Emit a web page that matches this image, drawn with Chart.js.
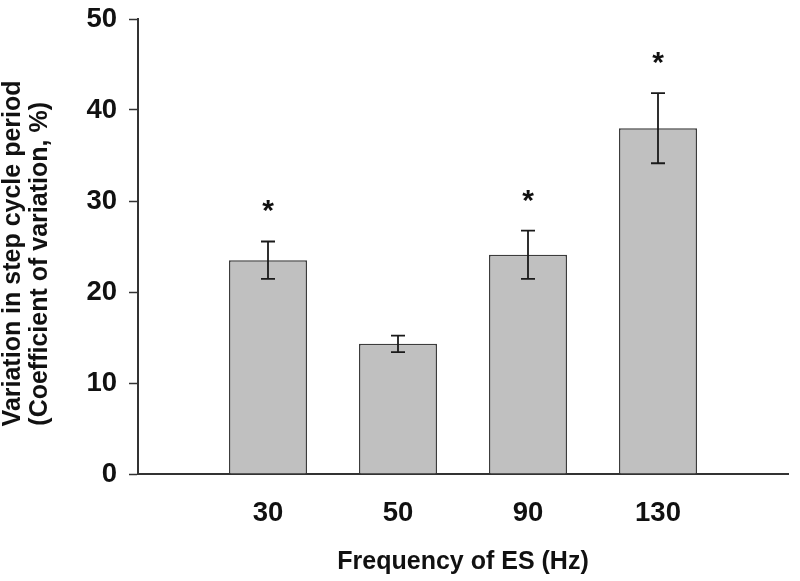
<!DOCTYPE html>
<html>
<head>
<meta charset="utf-8">
<script src="https://cdn.jsdelivr.net/npm/chart.js@4"></script>
<style>
  html, body { margin: 0; padding: 0; background: #ffffff; }
  #wrap { width: 800px; height: 581px; }
</style>
</head>
<body>
<div id="wrap"><canvas id="c" width="800" height="581"></canvas></div>
<script>
// ---- data ----
const categories = ['30', '50', '90', '130'];          // Frequency of ES (Hz)
const means      = [23.5, 14.3, 24.1, 38.0];            // CV, %
const errors     = [2.05, 0.9, 2.65, 3.85];             // +/- error
const significant = [true, false, true, true];          // asterisk markers
const yTicks = [0, 10, 20, 30, 40, 50];

// padded category list so bars sit on the interior tick positions
const labels = [''].concat(categories, ['']);
const barData = [null].concat(means, [null]);
const errData = [null].concat(errors, [null]);
const sigData = [false].concat(significant, [false]);

const FONT = "'Liberation Sans', Arial, Helvetica, sans-serif";
const INK = '#111111';
const AXIS = '#333333';

const errorBarPlugin = {
  id: 'errorBars',
  afterDatasetsDraw(chart) {
    const ctx = chart.ctx;
    const meta = chart.getDatasetMeta(0);
    const yScale = chart.scales.y;
    ctx.save();
    meta.data.forEach((bar, i) => {
      const m = barData[i];
      const e = errData[i];
      if (m === null || e === null) return;
      const x = bar.x;
      const yTop = yScale.getPixelForValue(m + e);
      const yBot = yScale.getPixelForValue(m - e);
      const cap = 7;
      ctx.strokeStyle = '#1a1a1a';
      ctx.lineWidth = 1.8;
      ctx.beginPath();
      ctx.moveTo(x, yTop); ctx.lineTo(x, yBot);
      ctx.moveTo(x - cap, yTop); ctx.lineTo(x + cap, yTop);
      ctx.moveTo(x - cap, yBot); ctx.lineTo(x + cap, yBot);
      ctx.stroke();
      if (sigData[i]) {
        ctx.font = 'bold 30px ' + FONT;
        ctx.fillStyle = INK;
        ctx.textAlign = 'center';
        ctx.textBaseline = 'alphabetic';
        const mt = ctx.measureText('*');
        const asc = mt.actualBoundingBoxAscent, desc = mt.actualBoundingBoxDescent;
        const centerY = yTop - 35;
        const baseY = centerY + (asc - desc) / 2;
        ctx.fillText('*', x, baseY);
      }
    });
    ctx.restore();
  }
};

new Chart(document.getElementById('c'), {
  type: 'bar',
  data: {
    labels: labels,
    datasets: [{
      data: barData,
      backgroundColor: '#c0c0c0',
      borderColor: '#3c3c3c',
      borderWidth: 1.5,
      barPercentage: 0.6,
      categoryPercentage: 1.0
    }]
  },
  options: {
    responsive: false,
    animation: false,
    events: [],
    layout: { padding: { top: 19, right: 12, bottom: 0, left: 0 } },
    plugins: {
      legend: { display: false },
      tooltip: { enabled: false },
      title: { display: false }
    },
    scales: {
      x: {
        type: 'category',
        offset: false,
        grid: { display: true, drawOnChartArea: false, drawTicks: false, offset: false },
        border: { display: true, color: AXIS, width: 2 },
        ticks: {
          padding: 23,
          color: INK,
          font: { family: FONT, size: 27.5, weight: 'bold' },
          maxRotation: 0, autoSkip: false
        },
        title: {
          display: true,
          text: 'Frequency of ES (Hz)',
          color: INK,
          font: { family: FONT, size: 25, weight: 'bold' },
          padding: { top: 0, bottom: 4 }
        },
        afterFit(scale) {
          scale.height = 107;
          scale.paddingLeft = 0;
          scale.paddingRight = 0;
        }
      },
      y: {
        min: 0, max: 50,
        afterBuildTicks(scale) { scale.ticks = yTicks.map(v => ({ value: v })); },
        grid: { display: true, drawOnChartArea: false, drawTicks: true, tickLength: 9, color: AXIS, tickWidth: 1.5 },
        border: { display: true, color: AXIS, width: 2 },
        ticks: {
          padding: 12,
          color: INK,
          font: { family: FONT, size: 27.5, weight: 'bold' }
        },
        title: {
          display: true,
          text: ['Variation in step cycle period  ', '(Coefficient of variation, %)     '],
          color: INK,
          font: { family: FONT, size: 25, weight: 'bold', lineHeight: 1.08 },
          padding: { top: 0, bottom: 0 }
        },
        afterFit(scale) {
          scale.width = 138;
          scale.paddingTop = 0;
          scale.paddingBottom = 0;
        }
      }
    }
  },
  plugins: [errorBarPlugin]
});
</script>
</body>
</html>
